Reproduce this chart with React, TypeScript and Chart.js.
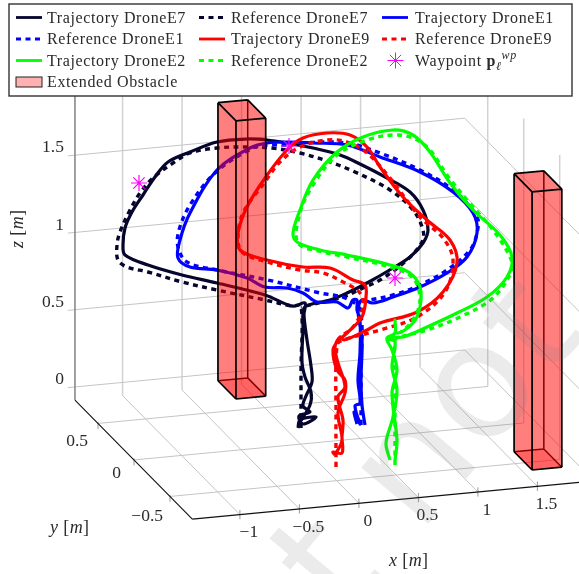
import React, { useEffect, useRef } from "react";
import { Chart, registerables } from "chart.js";

Chart.register(...registerables);

type Pt = [number, number];
type P3 = [number, number, number];

// Axis ticks and limits (metres)
const xTicks = [-1, -0.5, 0, 0.5, 1, 1.5];
const yTicks = [-0.5, 0, 0.5];
const zTicks = [0, 0.5, 1, 1.5];
const xLabels = ["\u22121", "\u22120.5", "0", "0.5", "1", "1.5"];
const yLabels = ["\u22120.5", "0", "0.5"];
const zLabels = ["0", "0.5", "1", "1.5"];
const yLabelShift: Pt[] = [[-7, 20], [-13, 13], [-10, 18]];
const xLimits = [-1.4, 1.875];
const yLimits = [-0.81, 0.82];
const zLimits = [-0.085, 1.885];

// Obstacles: [xLow, xHigh, yLow, yHigh, zLow, zHigh]
const obstacleLeft = [-0.254, -0.004, 0.478, 0.728, 0, 1.8];
const obstacleRight = [1.483, 1.733, -0.764, -0.514, 0, 1.8];

// Trajectories
const e7Trajectory: Pt[] = [[298,428],[300,420],[316,417],[303,424],[299,416],[310,412],[303,406],[306,396],[312,382],[311,366],[307,340],[304,315],[305,303],[295,306],[288,305],[265,295],[217,283],[182,275],[148,265],[125,255],[123,245],[125,228],[132,212],[143,195],[155,177],[168,162],[190,152],[217,142],[247,139],[267,140],[287,143],[313,148],[340,155],[360,164],[387,178],[410,192],[423,210],[428,230],[423,243],[410,257],[393,268],[367,283],[347,293],[330,300],[312,304],[304,308],[303,330],[302,362],[305,377],[311,392],[310,405],[300,422]];
const e7Reference: Pt[] = [[301,428],[301,370],[301,306],[292,306],[265,300],[217,290],[182,282],[148,272],[127,267],[118,260],[117,245],[120,232],[130,210],[140,193],[153,178],[173,163],[190,153],[217,148],[247,147],[272,148],[300,153],[330,162],[355,172],[390,190],[413,210],[423,230],[422,242],[407,260],[380,280],[363,288],[343,297],[323,302],[301,307]];
const e1Trajectory: Pt[] = [[357,424],[354,412],[358,418],[360,424],[355,406],[360,403],[358,380],[360,353],[360,320],[357,310],[357,300],[353,300],[348,308],[337,302],[317,302],[303,293],[287,288],[265,287],[247,278],[217,270],[190,267],[178,258],[180,240],[190,213],[217,170],[250,148],[267,143],[290,142],[313,143],[347,145],[380,157],[420,172],[453,192],[473,213],[477,233],[467,257],[447,273],[420,287],[393,297],[373,303],[362,300],[358,310],[362,340],[361,380],[362,405],[365,425]];
const e1Reference: Pt[] = [[361,425],[361,370],[360,310],[345,298],[320,293],[268,280],[217,270],[187,262],[178,247],[179,230],[190,205],[215,173],[253,148],[270,145],[290,145],[300,143],[347,143],[380,153],[420,170],[453,190],[477,217],[477,233],[470,250],[447,270],[420,285],[393,295],[370,300]];
const e9Trajectory: Pt[] = [[335,455],[333,452],[342,453],[342,437],[343,420],[338,397],[345,387],[338,363],[335,347],[340,337],[344,340],[367,330],[380,323],[417,312],[443,292],[457,263],[450,240],[427,220],[403,197],[380,167],[367,147],[350,135],[327,133],[303,138],[287,150],[265,178],[247,207],[238,233],[240,250],[267,260],[303,267],[330,268],[353,280],[365,285],[366,297],[362,317],[347,333],[338,341],[333,350],[337,370],[345,380],[345,393],[338,413],[342,440],[335,455]];
const e9Reference: Pt[] = [[336,467],[336,420],[337,345],[343,340],[380,330],[417,317],[445,292],[453,260],[443,238],[420,217],[390,178],[367,153],[347,142],[327,140],[300,147],[280,162],[265,182],[243,213],[238,240],[243,253],[267,262],[300,270],[323,273],[343,282],[360,293],[363,307],[353,327],[340,337]];
const e2Trajectory: Pt[] = [[390,460],[386,443],[393,417],[397,390],[392,367],[395,342],[387,338],[395,333],[395,320],[397,333],[413,323],[420,307],[420,287],[410,273],[390,265],[347,255],[320,250],[297,242],[293,233],[300,210],[313,180],[337,152],[363,137],[393,130],[413,135],[430,152],[450,183],[473,210],[500,235],[512,257],[507,277],[487,297],[457,313],[427,327],[403,337],[387,338],[392,350],[397,370],[392,393],[397,440],[395,460]];
const e2Reference: Pt[] = [[395,465],[395,400],[395,340],[400,337],[427,330],[460,317],[493,298],[512,270],[510,257],[493,230],[467,200],[447,175],[430,150],[413,138],[393,135],[367,140],[337,155],[313,185],[300,213],[298,243],[323,252],[347,257],[390,267],[413,278],[420,300],[413,320],[400,333]];
const waypoints: Pt[] = [[139,183],[289,146],[395,278]];

const NAVY = "#05052e";
const BLUE = "#0000ff";
const RED = "#ff0000";
const GREEN = "#00ff00";
const MAGENTA = "#ff00ff";
const W = 579;
const H = 574;

const project = ([x, y, z]: P3) => ({
  x: 300.6 + 119 * x - 72 * y,
  y: 431 - 11.3 * x - 73 * y - 154.5 * z,
});
const GAP = { x: NaN, y: NaN };

function segments(list: [P3, P3][]) {
  const out: { x: number; y: number }[] = [];
  list.forEach(([a, b]) => out.push(project(a), project(b), GAP));
  return out;
}
const toXY = (p: Pt[]) => p.map(([x, y]) => ({ x, y }));

function obstacleSets(o: number[], base: number) {
  const [x0, x1, y0, y1, z0, z1] = o;
  const p = (x: number, y: number, z: number): P3 => [x, y, z];
  const plain = { pointRadius: 0, showLine: true, tension: 0 };
  return [
    {
      ...plain, order: base + 3, borderColor: "#000", borderWidth: 1.5,
      data: segments([
        [p(x1, y1, z0), p(x1, y1, z1)],
        [p(x0, y1, z0), p(x1, y1, z0)],
        [p(x1, y1, z0), p(x1, y0, z0)],
      ]),
    },
    {
      ...plain, order: base + 2, borderWidth: 0, borderColor: "transparent", backgroundColor: "rgba(255,0,0,0.22)", fill: "shape",
      data: [p(x0, y0, z0), p(x1, y0, z0), p(x1, y1, z0), p(x0, y1, z0)].map(project),
    },
    {
      ...plain, order: base + 1, borderWidth: 0, borderColor: "transparent", backgroundColor: "rgba(255,0,0,0.5)", fill: "shape",
      data: [p(x0, y1, z0), p(x0, y0, z0), p(x1, y0, z0), p(x1, y0, z1), p(x1, y1, z1), p(x0, y1, z1)].map(project),
    },
    {
      ...plain, order: base, borderColor: "#000", borderWidth: 1.7,
      data: segments([
        [p(x0, y1, z0), p(x0, y0, z0)], [p(x0, y0, z0), p(x1, y0, z0)], [p(x1, y0, z0), p(x1, y0, z1)],
        [p(x1, y0, z1), p(x1, y1, z1)], [p(x1, y1, z1), p(x0, y1, z1)], [p(x0, y1, z1), p(x0, y1, z0)],
        [p(x0, y0, z0), p(x0, y0, z1)], [p(x0, y0, z1), p(x1, y0, z1)], [p(x0, y0, z1), p(x0, y1, z1)],
      ]),
    },
  ];
}

function gridSets() {
  const [xa, xb] = xLimits;
  const [ya, yb] = yLimits;
  const [za, zb] = zLimits;
  const plain = { pointRadius: 0, showLine: true, tension: 0, order: 100 };
  const floor: [P3, P3][] = [];
  xTicks.forEach((x) => floor.push([[x, ya, za], [x, yb, za]]));
  yTicks.forEach((y) => floor.push([[xa, y, za], [xb, y, za]]));
  const walls: [P3, P3][] = [];
  zTicks.forEach((z) => {
    walls.push([[xa - 0.06, yb, z], [xb, yb, z]]);
    walls.push([[xb, yb, z], [xb, ya, z]]);
  });
  const verticals: [P3, P3][] = [];
  xTicks.forEach((x) => verticals.push([[x, yb, za], [x, yb, zb]]));
  yTicks.forEach((y) => verticals.push([[xb, y, za], [xb, y, zb]]));
  const stubs: [P3, P3][] = [];
  xTicks.forEach((x) => stubs.push([[x, ya, za - 0.03], [x, ya, za + 0.03]]));
  yTicks.forEach((y) => stubs.push([[xa, y, za - 0.035], [xa, y, za + 0.01]]));
  return [
    { ...plain, borderColor: "#c4c4c4", borderWidth: 1, data: segments(floor) },
    { ...plain, borderColor: "#c4c4c4", borderWidth: 1, data: segments(walls) },
    { ...plain, borderColor: "#d2d2d2", borderWidth: 1.5, data: segments(verticals) },
    { ...plain, order: 99, borderColor: "#999", borderWidth: 1, data: segments(stubs) },
    { ...plain, order: 98, borderColor: "#888", borderWidth: 1.6, data: segments([[[xa, yb, za], [xa, yb, zb]]]) },
    { ...plain, order: 97, borderColor: "#111", borderWidth: 1.1, data: segments([[[xa, ya, za], [xb, ya, za]], [[xa, ya, za], [xa, yb, za]]]) },
  ];
}

const trajectorySet = (label: string, pts: Pt[], color: string, order: number, dashed: boolean) => ({
  label,
  data: toXY(pts),
  borderColor: color,
  borderWidth: dashed ? 3.4 : 3.2,
  borderDash: dashed ? [5, 4.5] : [],
  pointRadius: 0,
  showLine: true,
  tension: 0.35,
  order,
});

type Run = { t: string; style?: string; size?: number; dy?: number };
function runs(ctx: CanvasRenderingContext2D, parts: Run[], x: number, y: number, size: number, spacing: string) {
  let cx = x;
  ctx.textAlign = "left";
  ctx.textBaseline = "alphabetic";
  (ctx as any).letterSpacing = spacing;
  parts.forEach((p) => {
    ctx.font = `${p.style ?? ""} ${p.size ?? size}px "Liberation Serif"`;
    ctx.fillText(p.t, cx, y + (p.dy ?? 0));
    cx += ctx.measureText(p.t).width;
  });
  (ctx as any).letterSpacing = "0px";
}

const legendRows = [
  { c: 0, r: 0, label: "Trajectory DroneE7", color: NAVY, dash: false },
  { c: 1, r: 0, label: "Reference DroneE7", color: NAVY, dash: true },
  { c: 2, r: 0, label: "Trajectory DroneE1", color: BLUE, dash: false },
  { c: 0, r: 1, label: "Reference DroneE1", color: BLUE, dash: true },
  { c: 1, r: 1, label: "Trajectory DroneE9", color: RED, dash: false },
  { c: 2, r: 1, label: "Reference DroneE9", color: RED, dash: true },
  { c: 0, r: 2, label: "Trajectory DroneE2", color: GREEN, dash: false },
  { c: 1, r: 2, label: "Reference DroneE2", color: GREEN, dash: true },
];

const overlay = {
  id: "overlay",
  afterDatasetsDraw(chart: Chart) {
    const ctx = chart.ctx;
    ctx.save();
    ctx.fillStyle = "#2a2a2a";
    // tick labels
    xTicks.forEach((v, i) => {
      const p = project([v, yLimits[0], zLimits[0]]);
      ctx.font = '17.5px "Liberation Serif"';
      ctx.textAlign = "center";
      ctx.textBaseline = "middle";
      ctx.fillText(xLabels[i], p.x + 9, p.y + 18);
    });
    yTicks.forEach((v, i) => {
      const p = project([xLimits[0], v, zLimits[0]]);
      ctx.font = '17.5px "Liberation Serif"';
      ctx.textAlign = "right";
      ctx.textBaseline = "middle";
      ctx.fillText(yLabels[i], p.x + yLabelShift[i][0], p.y + yLabelShift[i][1]);
    });
    zTicks.forEach((v, i) => {
      const p = project([xLimits[0], yLimits[1], v]);
      ctx.font = '17.5px "Liberation Serif"';
      ctx.textAlign = "right";
      ctx.textBaseline = "middle";
      ctx.fillText(zLabels[i], p.x - 11, p.y - 7.5);
    });
    runs(ctx, [{ t: "x", style: "italic" }, { t: " [" }, { t: "m", style: "italic" }, { t: "]" }], 389, 566, 18, "0.4px");
    runs(ctx, [{ t: "y", style: "italic" }, { t: " [" }, { t: "m", style: "italic" }, { t: "]" }], 50, 533, 18, "0.4px");
    ctx.save();
    ctx.translate(23, 248);
    ctx.rotate(-Math.PI / 2);
    runs(ctx, [{ t: "z", style: "italic" }, { t: " [" }, { t: "m", style: "italic" }, { t: "]" }], 0, 0, 18, "0.4px");
    ctx.restore();

    // legend
    ctx.fillStyle = "#fff";
    ctx.strokeStyle = "#333";
    ctx.lineWidth = 1.4;
    ctx.fillRect(9, 4, 563, 92);
    ctx.strokeRect(9, 4, 563, 92);
    const swatchX = [16, 199, 382];
    const textX = [47, 231, 415];
    const rowY = [17.5, 39, 60.5, 82];
    legendRows.forEach((e) => {
      ctx.strokeStyle = e.color;
      ctx.lineWidth = 2.8;
      ctx.setLineDash(e.dash ? [5, 4.5] : []);
      ctx.beginPath();
      ctx.moveTo(swatchX[e.c], rowY[e.r]);
      ctx.lineTo(swatchX[e.c] + 26, rowY[e.r]);
      ctx.stroke();
      ctx.setLineDash([]);
      ctx.fillStyle = "#2a2a2a";
      runs(ctx, [{ t: e.label }], textX[e.c], rowY[e.r] + 5, 16, "0.62px");
    });
    // waypoint entry
    ctx.strokeStyle = MAGENTA;
    ctx.lineWidth = 1;
    for (let k = 0; k < 4; k++) {
      const a = (k * Math.PI) / 4;
      ctx.beginPath();
      ctx.moveTo(395.5 - 8 * Math.cos(a), rowY[2] - 8 * Math.sin(a));
      ctx.lineTo(395.5 + 8 * Math.cos(a), rowY[2] + 8 * Math.sin(a));
      ctx.stroke();
    }
    ctx.fillStyle = "#2a2a2a";
    runs(ctx, [{ t: "Waypoint " }, { t: "p", style: "bold" }, { t: "\u2113", style: "italic", size: 12, dy: 4 }, { t: "wp", style: "italic", size: 12, dy: -7 }], textX[2], rowY[2] + 5, 16, "0.62px");
    // obstacle entry
    ctx.fillStyle = "#ffb0b0";
    ctx.strokeStyle = "#222";
    ctx.lineWidth = 1;
    ctx.fillRect(16, 77, 26, 10);
    ctx.strokeRect(16, 77, 26, 10);
    ctx.fillStyle = "#2a2a2a";
    runs(ctx, [{ t: "Extended Obstacle" }], textX[0], rowY[3] + 5, 16, "0.62px");
    ctx.restore();
  },
  afterDraw(chart: Chart) {
    const ctx = chart.ctx;
    ctx.save();
    ctx.translate(346, 622);
    ctx.rotate((-50 * Math.PI) / 180);
    ctx.font = '160px "DejaVu Sans"';
    ctx.textAlign = "left";
    ctx.textBaseline = "alphabetic";
    ctx.fillStyle = "rgba(120,120,120,0.15)";
    ctx.fillText("t not", 0, 0);
    ctx.restore();
  },
};

export default function App() {
  const ref = useRef<HTMLCanvasElement>(null);
  useEffect(() => {
    if (!ref.current) return;
    const chart = new Chart(ref.current, {
      type: "scatter",
      data: {
        datasets: [
          ...gridSets(),
          trajectorySet("Trajectory DroneE7", e7Trajectory, NAVY, 58, false),
          trajectorySet("Reference DroneE7", e7Reference, NAVY, 57, true),
          trajectorySet("Trajectory DroneE1", e1Trajectory, BLUE, 56, false),
          trajectorySet("Reference DroneE1", e1Reference, BLUE, 55, true),
          trajectorySet("Trajectory DroneE9", e9Trajectory, RED, 54, false),
          trajectorySet("Reference DroneE9", e9Reference, RED, 53, true),
          trajectorySet("Trajectory DroneE2", e2Trajectory, GREEN, 52, false),
          trajectorySet("Reference DroneE2", e2Reference, GREEN, 51, true),
          ...obstacleSets(obstacleLeft, 30),
          ...obstacleSets(obstacleRight, 20),
          {
            label: "Waypoint",
            data: toXY(waypoints),
            showLine: false,
            pointStyle: "star",
            pointRadius: 8,
            pointBorderColor: MAGENTA,
            pointBorderWidth: 1.2,
            order: 10,
          },
        ] as any,
      },
      options: {
        animation: false,
        responsive: false,
        layout: { padding: 0, autoPadding: false },
        spanGaps: false,
        plugins: { legend: { display: false }, tooltip: { enabled: false } },
        scales: {
          x: { type: "linear", display: false, min: 0, max: W },
          y: { type: "linear", display: false, min: 0, max: H, reverse: true },
        },
      },
      plugins: [overlay as any],
    });
    return () => chart.destroy();
  }, []);
  return <canvas ref={ref} width={W} height={H} style={{ position: "absolute", left: 0, top: 0 }} />;
}
